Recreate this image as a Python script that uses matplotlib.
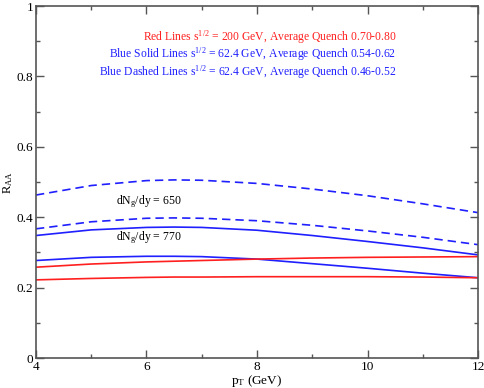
import numpy as np
import matplotlib
matplotlib.use("Agg")
import matplotlib.pyplot as plt
from matplotlib.ticker import MultipleLocator

plt.rcParams['font.family'] = ['Liberation Serif', 'DejaVu Serif']
plt.rcParams['mathtext.fontset'] = 'custom'
plt.rcParams['mathtext.rm'] = 'Liberation Serif'
plt.rcParams['mathtext.it'] = 'Liberation Serif'

pt = [4, 5, 6, 6.5, 7, 8, 9, 10, 11, 12]

# blue dashed (62.4 GeV, quench 0.46-0.52)
blue_dash_hi = [0.463, 0.490, 0.504, 0.506, 0.505, 0.496, 0.480, 0.461, 0.438, 0.413]
blue_dash_lo = [0.367, 0.387, 0.397, 0.398, 0.397, 0.390, 0.377, 0.361, 0.343, 0.322]
# blue solid (62.4 GeV, quench 0.54-0.62)
blue_sol_hi = [0.348, 0.364, 0.371, 0.372, 0.371, 0.363, 0.348, 0.331, 0.313, 0.293]
blue_sol_lo = [0.277, 0.286, 0.289, 0.289, 0.288, 0.281, 0.268, 0.255, 0.241, 0.228]
# red (200 GeV, quench 0.70-0.80)
red_hi = [0.258, 0.267, 0.273, 0.275, 0.277, 0.281, 0.284, 0.286, 0.287, 0.288]
red_lo = [0.222, 0.226, 0.229, 0.230, 0.230, 0.231, 0.231, 0.231, 0.230, 0.228]

notes = [
    ("Red Lines s$^{1/2}$ = 200 GeV, Average Quench 0.70-0.80", "#ff2020", 0.912),
    ("Blue Solid Lines s$^{1/2}$ = 62.4 GeV, Average Quench 0.54-0.62", "#2020ff", 0.864),
    ("Blue Dashed Lines s$^{1/2}$ = 62.4 GeV, Average Quench 0.46-0.52", "#2020ff", 0.813),
]

fig = plt.figure(figsize=(4.85, 3.88), dpi=100)
ax = fig.add_axes([0.0742, 0.0773, 0.9114, 0.9072])

blue = "#1f1fff"
red = "#ff1f1f"
lw = 1.2
ax.plot(pt, blue_dash_hi, color=blue, lw=lw, ls=(0, (5, 3)))
ax.plot(pt, blue_dash_lo, color=blue, lw=lw, ls=(0, (5, 3)))
ax.plot(pt, blue_sol_hi, color=blue, lw=lw)
ax.plot(pt, blue_sol_lo, color=blue, lw=lw)
ax.plot(pt, red_hi, color=red, lw=lw)
ax.plot(pt, red_lo, color=red, lw=lw)

for txt, c, y in notes:
    ax.text(10.52, y, txt, color=c, fontsize=8.4, ha='right', va='center')

ax.text(5.45, 0.443, "dN$_g$/dy = 650", fontsize=8.5, va='center')
ax.text(5.45, 0.341, "dN$_g$/dy = 770", fontsize=8.5, va='center')

ax.set_xlim(4, 12)
ax.set_ylim(0, 1)
ax.xaxis.set_major_locator(MultipleLocator(2))
ax.xaxis.set_minor_locator(MultipleLocator(1))
ax.yaxis.set_major_locator(MultipleLocator(0.2))
ax.yaxis.set_minor_locator(MultipleLocator(0.1))
ax.set_xticks([4, 6, 8, 10, 12], ["4", "6", "8", "10", "12"])
ax.set_yticks([0, 0.2, 0.4, 0.6, 0.8, 1], ["0", "0.2", "0.4", "0.6", "0.8", "1"])
ax.tick_params(which='both', direction='in', top=True, right=True,
               labelsize=9.5, pad=2, color='#555555', width=1)
ax.tick_params(which='major', length=6)
ax.tick_params(which='minor', length=3)
for s in ax.spines.values():
    s.set_color('#555555')
    s.set_linewidth(1.2)

ax.set_xlabel("p$_\\mathrm{T}$ (GeV)", fontsize=9.5, labelpad=0)
ax.set_ylabel("R$_\\mathrm{AA}$", fontsize=9, labelpad=1)

fig.savefig("out.png", dpi=100)
